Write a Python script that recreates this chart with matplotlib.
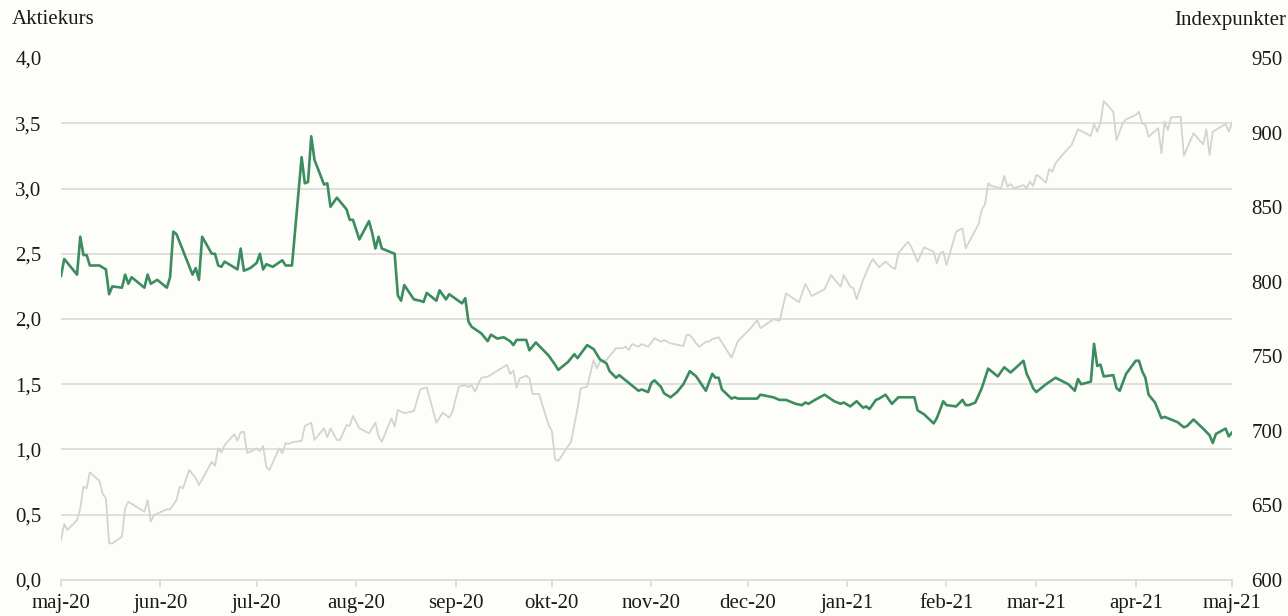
import matplotlib
matplotlib.use("Agg")
import matplotlib.pyplot as plt
import pandas as pd
import numpy as np

# Aktiekurs (venstre akse) - dag nr. efter 1. maj 2020
kurs_dag = [0, 1, 5, 6, 7, 8, 9, 12, 14, 15, 16, 19, 20, 21, 22, 26, 27, 28, 30, 33,
            34, 35, 36, 41, 42, 43, 44, 47, 48, 49, 50, 51, 55, 56, 57, 59, 61, 62, 63, 64,
            66, 69, 70, 72, 75, 76, 77, 78, 79, 82, 83, 84, 86, 89, 90, 91, 93, 96, 97, 98,
            99, 100, 102, 104, 105, 106, 107, 110, 112, 113, 114, 117, 118, 120, 121, 125, 126, 127, 128, 131,
            133, 134, 136, 138, 140, 141, 142, 145, 146, 148, 152, 154, 155, 158, 160, 161, 164, 166, 168, 170,
            171, 173, 174, 177, 180, 181, 183, 184, 185, 187, 188, 190, 192, 194, 196, 198, 201, 203, 204, 205,
            206, 209, 210, 211, 217, 218, 222, 224, 226, 229, 231, 232, 233, 235, 238, 241, 243, 244, 246, 248,
            250, 251, 252, 254, 255, 257, 259, 261, 266, 267, 269, 272, 273, 275, 276, 279, 281, 282, 283, 285,
            287, 289, 292, 294, 296, 300, 301, 302, 303, 304, 307, 310, 314, 316, 317, 318, 321, 322, 323, 324,
            325, 328, 329, 330, 332, 335, 336, 337, 338, 339, 341, 342, 343, 344, 348, 350, 351, 353, 356, 358,
            359, 360, 363, 364, 365]
kurs = [2.33, 2.46, 2.34, 2.63, 2.49, 2.49, 2.41, 2.41, 2.38, 2.19, 2.25, 2.24, 2.34, 2.27, 2.32, 2.24, 2.34, 2.27, 2.30, 2.24,
        2.32, 2.67, 2.65, 2.34, 2.39, 2.30, 2.63, 2.50, 2.50, 2.41, 2.40, 2.44, 2.38, 2.54, 2.37, 2.39, 2.43, 2.50, 2.38, 2.42,
        2.40, 2.45, 2.41, 2.41, 3.24, 3.04, 3.05, 3.40, 3.22, 3.03, 3.04, 2.86, 2.93, 2.84, 2.76, 2.76, 2.61, 2.75, 2.66, 2.54,
        2.63, 2.54, 2.52, 2.50, 2.18, 2.14, 2.26, 2.15, 2.14, 2.13, 2.20, 2.14, 2.22, 2.15, 2.19, 2.12, 2.16, 1.98, 1.94, 1.89,
        1.83, 1.88, 1.85, 1.86, 1.83, 1.80, 1.84, 1.84, 1.76, 1.82, 1.72, 1.65, 1.61, 1.67, 1.73, 1.70, 1.80, 1.77, 1.69, 1.66,
        1.60, 1.55, 1.57, 1.51, 1.45, 1.46, 1.44, 1.51, 1.53, 1.48, 1.43, 1.40, 1.44, 1.50, 1.60, 1.56, 1.45, 1.58, 1.55, 1.55,
        1.46, 1.39, 1.40, 1.39, 1.39, 1.42, 1.40, 1.38, 1.38, 1.35, 1.34, 1.36, 1.35, 1.38, 1.42, 1.37, 1.35, 1.36, 1.33, 1.37,
        1.32, 1.33, 1.31, 1.38, 1.39, 1.42, 1.35, 1.40, 1.40, 1.30, 1.27, 1.20, 1.24, 1.37, 1.34, 1.33, 1.38, 1.34, 1.34, 1.36,
        1.47, 1.62, 1.56, 1.63, 1.59, 1.68, 1.58, 1.53, 1.47, 1.44, 1.50, 1.55, 1.50, 1.45, 1.54, 1.50, 1.52, 1.81, 1.64, 1.65,
        1.56, 1.57, 1.47, 1.45, 1.58, 1.68, 1.68, 1.60, 1.55, 1.42, 1.36, 1.30, 1.24, 1.25, 1.21, 1.17, 1.18, 1.23, 1.16, 1.11,
        1.05, 1.12, 1.16, 1.10, 1.13]

# Indeks (hoejre akse)
indeks_dag = [0, 1, 2, 5, 6, 7, 8, 9, 12, 13, 14, 15, 16, 19, 20, 21, 26, 27, 28, 29,
              33, 34, 36, 37, 38, 40, 42, 43, 44, 47, 48, 49, 50, 51, 54, 55, 56, 57, 58, 59,
              61, 62, 63, 64, 65, 68, 69, 70, 71, 72, 75, 76, 78, 79, 82, 83, 84, 86, 87, 89,
              90, 91, 93, 96, 98, 99, 100, 103, 104, 105, 107, 110, 112, 114, 117, 119, 121, 122, 124, 126,
              127, 128, 129, 131, 133, 135, 139, 140, 141, 142, 143, 145, 146, 147, 149, 152, 153, 154, 155, 159,
              161, 162, 164, 166, 167, 168, 170, 173, 175, 176, 177, 178, 180, 181, 183, 185, 187, 188, 190, 194,
              195, 196, 198, 199, 201, 202, 203, 205, 209, 211, 215, 217, 218, 222, 224, 226, 230, 231, 232, 234,
              238, 240, 243, 244, 246, 247, 248, 250, 252, 253, 255, 257, 259, 260, 261, 264, 265, 267, 269, 272,
              273, 274, 275, 276, 279, 281, 282, 286, 287, 288, 289, 290, 293, 294, 295, 296, 297, 300, 301, 302,
              303, 304, 305, 307, 308, 309, 310, 313, 315, 317, 321, 322, 323, 324, 325, 328, 329, 331, 332, 335,
              336, 337, 338, 339, 342, 343, 344, 345, 346, 349, 350, 353, 356, 357, 358, 359, 363, 364, 365]
indeks = [626.8, 637.5, 633.5, 640.2, 648.1, 662.6, 661.5, 672.2, 666.4, 657.7, 654.8, 624.6, 624.6, 629.0, 648.1, 652.5, 645.8, 653.6, 639.1, 643.6,
          647.4, 647.4, 653.6, 662.6, 661.5, 673.8, 668.2, 663.7, 667.5, 679.3, 676.6, 688.3, 685.4, 690.5, 697.7, 693.4, 699.0, 699.4, 685.4, 686.0,
          688.3, 686.5, 689.8, 675.6, 673.8, 688.3, 685.0, 691.7, 691.2, 692.3, 693.4, 703.3, 705.5, 693.9, 701.7, 695.7, 701.7, 693.9, 693.9, 703.9,
          703.3, 710.0, 701.7, 698.4, 705.5, 696.1, 692.7, 708.4, 702.8, 714.0, 711.8, 713.3, 727.9, 729.2, 705.5, 712.2, 708.8, 712.8, 729.6, 730.7,
          729.2, 730.7, 726.3, 735.6, 736.3, 739.0, 744.2, 738.1, 740.3, 728.9, 735.2, 737.0, 735.2, 724.7, 724.7, 703.9, 700.1, 680.9, 679.8, 692.7,
          715.1, 728.5, 729.6, 747.5, 741.9, 746.4, 747.5, 755.4, 755.4, 756.4, 754.2, 758.2, 756.4, 758.2, 756.4, 762.1, 759.8, 760.9, 758.7, 756.9,
          764.3, 764.3, 758.7, 756.4, 759.8, 759.8, 761.6, 762.7, 749.1, 760.2, 768.8, 774.3, 768.8, 774.8, 773.9, 792.2, 786.2, 792.2, 798.5, 790.4,
          794.9, 804.5, 796.7, 804.5, 796.7, 795.6, 788.2, 801.2, 811.2, 815.2, 809.7, 813.4, 809.7, 808.5, 819.1, 826.8, 823.5, 813.4, 823.1, 820.1,
          812.3, 819.1, 820.1, 811.2, 833.5, 835.8, 822.4, 838.7, 848.1, 851.9, 866.0, 864.2, 862.6, 870.9, 863.7, 865.5, 862.6, 864.8, 862.6, 867.1,
          864.2, 871.6, 870.4, 866.4, 875.4, 873.8, 879.4, 887.2, 891.7, 902.2, 897.7, 905.7, 900.6, 906.6, 921.2, 914.0, 895.0, 906.6, 908.9, 911.8,
          914.0, 906.2, 905.1, 897.2, 902.9, 886.1, 907.3, 901.7, 910.2, 910.6, 884.5, 899.5, 892.1, 902.2, 885.0, 900.6, 905.7, 900.6, 906.6]

maaneder = ["maj-20", "jun-20", "jul-20", "aug-20", "sep-20", "okt-20", "nov-20",
            "dec-20", "jan-21", "feb-21", "mar-21", "apr-21", "maj-21"]
venstre_ticks = [0, 0.5, 1.0, 1.5, 2.0, 2.5, 3.0, 3.5, 4.0]
hoejre_ticks = [600, 650, 700, 750, 800, 850, 900, 950]

start = pd.Timestamp("2020-05-01")
kurs_dato = start + pd.to_timedelta(kurs_dag, unit="D")
indeks_dato = start + pd.to_timedelta(indeks_dag, unit="D")
maaned_dato = pd.date_range("2020-05-01", "2021-05-01", freq="MS")

plt.rcParams["font.family"] = ["Liberation Serif", "DejaVu Serif"]
bg = "#fdfdfa"
grid = "#d9d9d9"
fs = 15

fig = plt.figure(figsize=(12.88, 6.16), dpi=100, facecolor=bg)
ax = fig.add_axes([61 / 1288, 36 / 616, 1171 / 1288, 522 / 616])
ax2 = ax.twinx()
ax.set_zorder(ax2.get_zorder() + 1)
ax.patch.set_visible(False)
ax2.set_facecolor(bg)

ax2.plot(indeks_dato, indeks, color="#d3d3d3", lw=1.3)
ax.plot(kurs_dato, kurs, color="#3b8c5e", lw=1.9)

ax.set_ylim(0, 4)
ax2.set_ylim(600, 950)
ax.set_xlim(maaned_dato[0], maaned_dato[-1])

ax.set_yticks(venstre_ticks)
ax.set_yticklabels([f"{v:.1f}".replace(".", ",") for v in venstre_ticks])
ax2.set_yticks(hoejre_ticks)
ax2.set_yticklabels([str(v) for v in hoejre_ticks])
ax.set_xticks(maaned_dato)
ax.set_xticklabels(maaneder)

# vandrette gitterlinjer paa venstre akses trin
for v in venstre_ticks[1:-1]:
    ax2.axhline(600 + v * 87.5, color=grid, lw=1.2, zorder=0)

for a in (ax, ax2):
    for s in a.spines.values():
        s.set_visible(False)
    a.tick_params(axis="y", length=0, labelsize=fs, colors="#1a1a1a", pad=14)
ax.spines["bottom"].set_visible(True)
ax.spines["bottom"].set_color(grid)
ax.spines["bottom"].set_linewidth(1.2)
ax.tick_params(axis="x", length=5, width=1.2, color=grid, labelsize=fs, pad=5, labelcolor="#1a1a1a")

fig.text(12 / 1288, 1 - 20 / 616, "Aktiekurs", fontsize=fs, va="center", ha="left", color="#1a1a1a")
fig.text(1286 / 1288, 1 - 20 / 616, "Indexpunkter", fontsize=fs, va="center", ha="right", color="#1a1a1a")

fig.savefig("out.png", dpi=100, facecolor=bg)
